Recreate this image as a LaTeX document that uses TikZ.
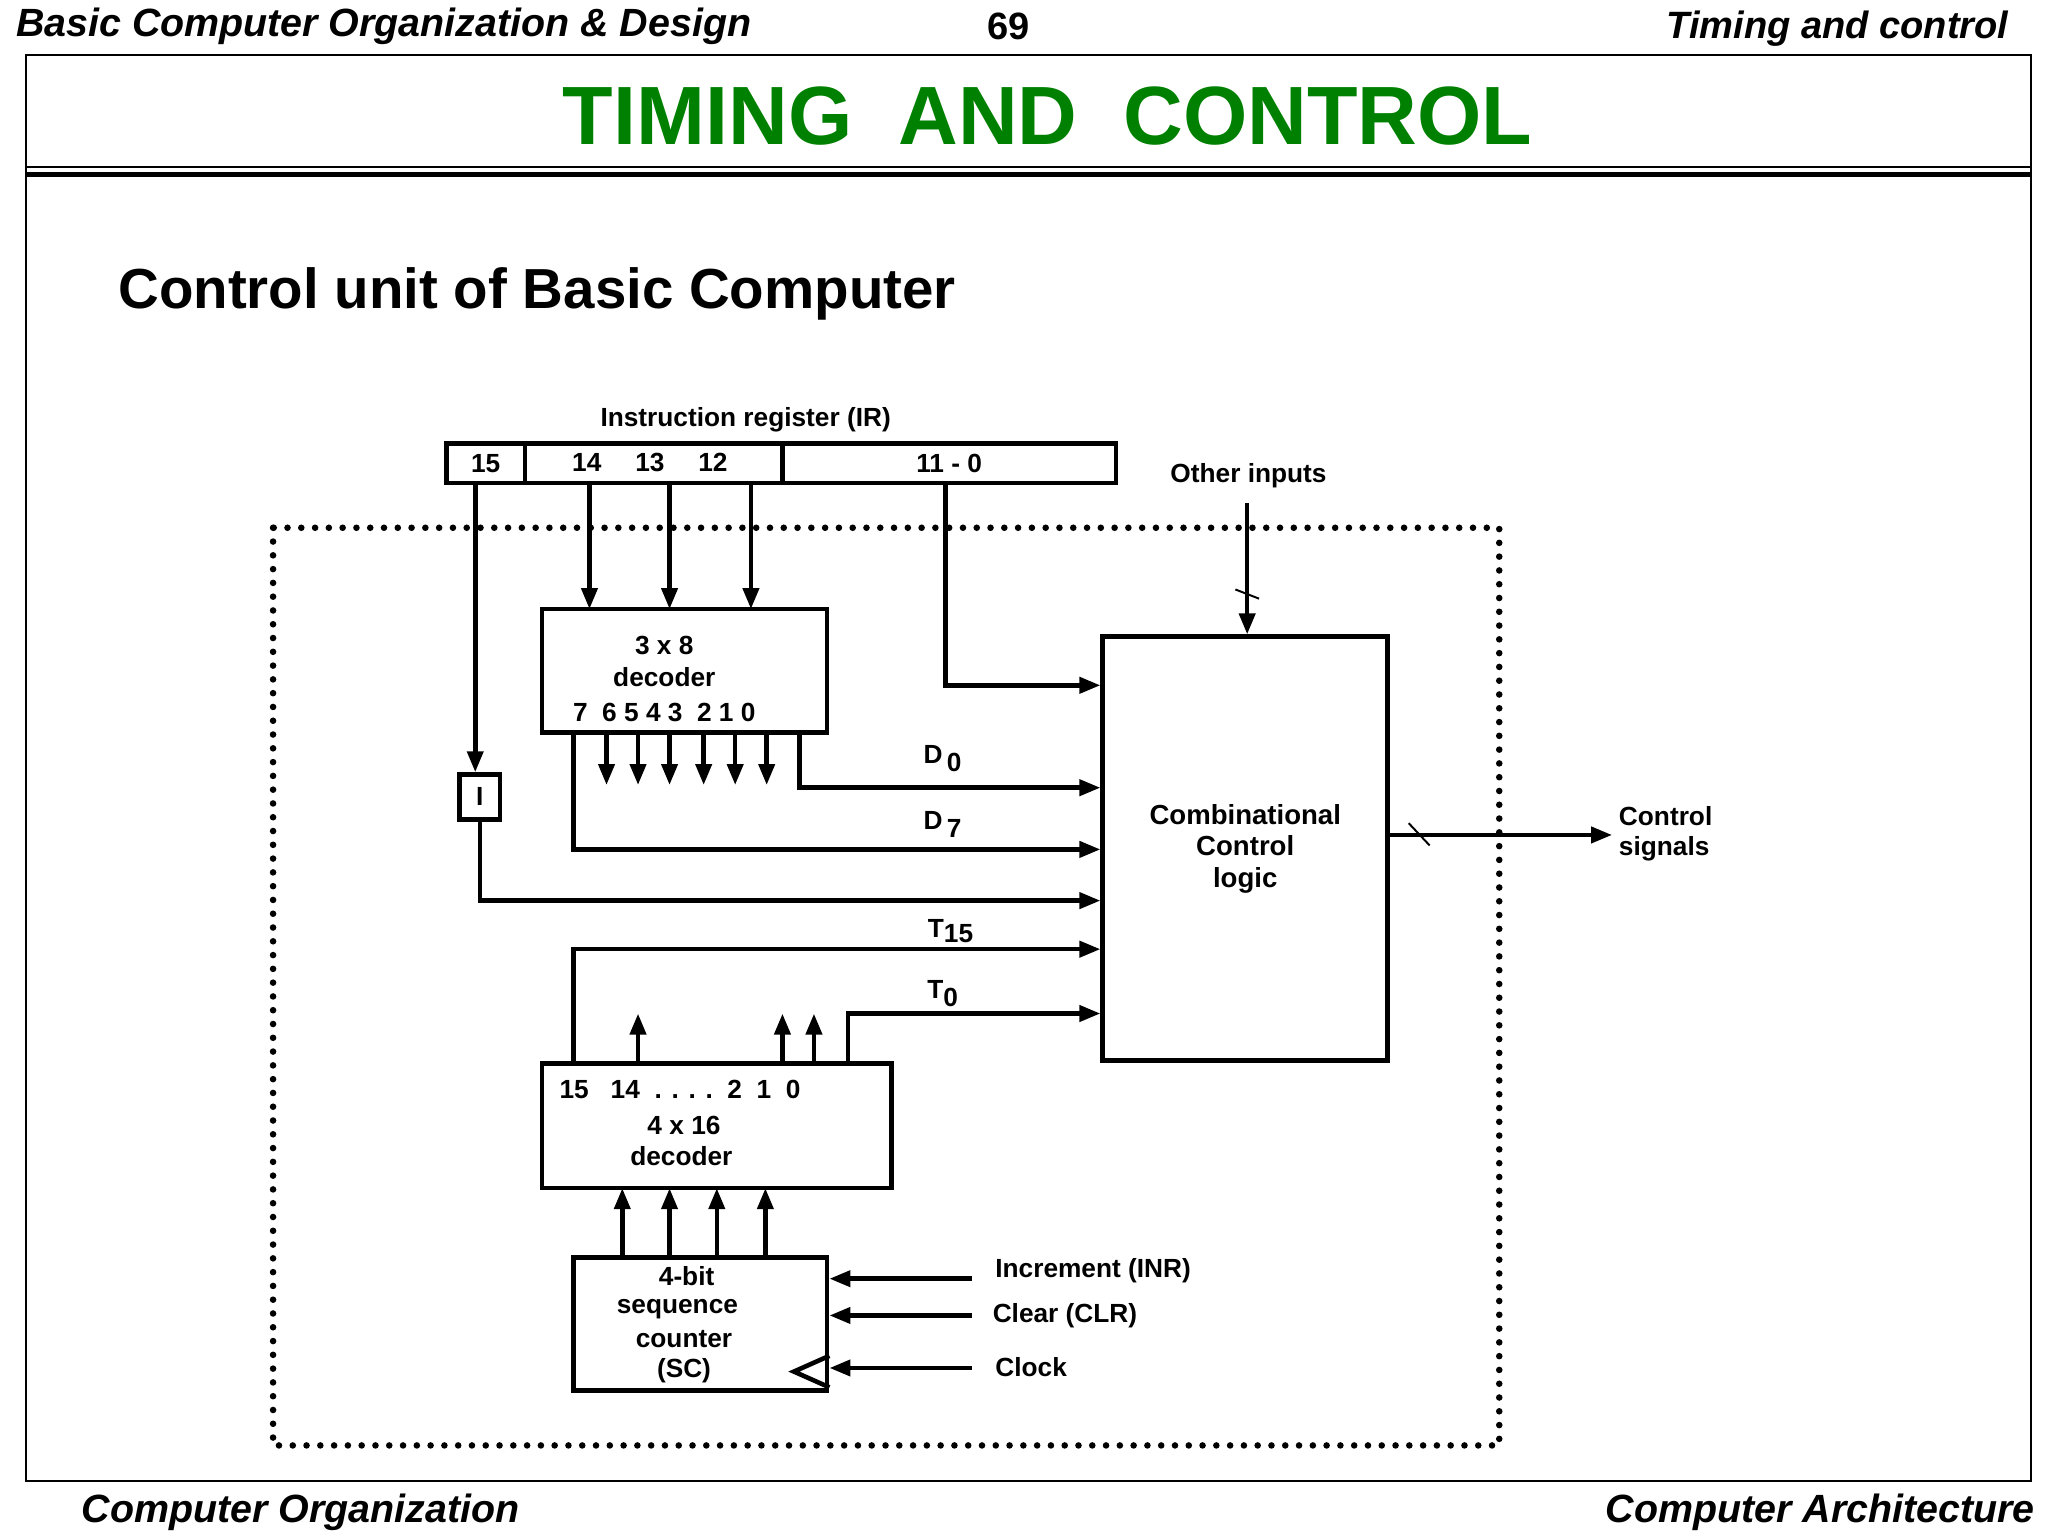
\documentclass[tikz,border=0pt]{standalone}
\usepackage{fontspec}
\setmainfont{Liberation Sans}
\usetikzlibrary{arrows.meta,calc}
\definecolor{titlegreen}{RGB}{0,128,0}
\begin{document}
\begin{tikzpicture}[x=1pt,y=-1pt,
    font=\fontsize{20}{23}\selectfont\bfseries,
    box/.style={draw, line width=3.5pt, inner sep=0pt, align=center},
    sig/.style={line width=3.5pt, -{Triangle[length=16pt,width=12pt]}},
    lbl/.style={inner sep=0pt, align=center}
  ]
    \useasboundingbox (0,0) rectangle (1560,1170);

    % Page frame and headings
    \node[lbl, anchor=west, font=\fontsize{30}{33}\selectfont\bfseries\itshape] (hl) at (12,20) {Basic Computer Organization \& Design};
    \node[lbl, font=\fontsize{29}{32}\selectfont\bfseries] (hc) at (768,20) {69};
    \node[lbl, anchor=east, font=\fontsize{29}{32}\selectfont\bfseries\itshape] (hr) at (1530,22) {Timing and control};
    \draw[line width=1.2pt] (20,42) rectangle (1547,1128);
    \draw[line width=1.5pt] (20,127) -- (1547,127);
    \draw[line width=4pt] (20,133) -- (1547,133);
    \node[lbl, text=titlegreen, font=\fontsize{63}{68}\selectfont\bfseries] (title) at (798,88) {TIMING\ \ AND\ \ CONTROL};
    \node[lbl, anchor=west, font=\fontsize{43}{46}\selectfont\bfseries] (sub) at (90,224) {Control unit of Basic Computer};
    \node[lbl, anchor=west, font=\fontsize{30}{33}\selectfont\bfseries\itshape] (fl) at (62,1152) {Computer Organization};
    \node[lbl, anchor=east, font=\fontsize{30}{33}\selectfont\bfseries\itshape] (fr) at (1550,1152) {Computer Architecture};

    % Dotted boundary
    \draw[line width=5pt, line cap=round, dash pattern=on 0pt off 10.5pt] (208,402) rectangle (1142,1101);

    % Instruction register
    \node[lbl] (irlbl) at (568,320) {Instruction register (IR)};
    \node[box, minimum width=60, minimum height=30] (ir15) at (370,353) {15};
    \node[box, minimum width=196, minimum height=30] (ir14) at (498,353) {};
    \node[box, minimum width=254, minimum height=30] (ir11) at (723,353) {11 - 0};
    \node[lbl] at (447,352) {14};
    \node[lbl] at (495,352) {13};
    \node[lbl] at (543,352) {12};

    % Decoders, counter, logic
    \node[box, minimum width=217, minimum height=94] (dec3) at (521.5,511) {};
    \node[lbl] at (506,492) {3 x 8};
    \node[lbl] at (506,516) {decoder};
    \node[lbl] at (506,543) {7\ \ 6 5 4 3\ \ 2 1 0};
    \node[box, minimum width=31, minimum height=34] (ireg) at (365.5,607) {I};
    \node[box, minimum width=217, minimum height=323, font=\fontsize{21}{24}\selectfont\bfseries] (ccl) at (948.5,646.5) {Combinational\\Control\\logic};
    \node[box, minimum width=266, minimum height=95] (dec4) at (546,857.5) {};
    \node[lbl] at (518,830) {15\ \ \ 14\ \ . . . .\ \ 2\ \ 1\ \ 0};
    \node[lbl] at (521,857) {4 x 16};
    \node[lbl] at (519,881) {decoder};
    \node[box, minimum width=193, minimum height=101] (sc) at (533.5,1008.5) {};
    \node[lbl] at (523,972) {4-bit};
    \node[lbl] at (516,997) {sequence};
    \node[lbl] at (521,1020) {counter};
    \node[lbl] at (521,1044) {(SC)};
    \draw[line width=3.5pt] ($(sc.south east)+(0,-28)$) -- ($(sc.south east)+(-27,-16)$) -- ($(sc.south east)+(0,-4)$);

    % IR to decoder
    \foreach \x in {449,510,572}
      \draw[sig] (\x,368) -- (\x,464);
    \draw[sig] (362,368) -- (ireg.north -| 362,0);
    \draw[sig] (720,368) |- (ccl.west |- 0,522);

    % Other inputs
    \node[lbl] (oin) at (951,362) {Other inputs};
    \draw[sig] (950,383) -- (ccl.north -| 950,0);
    \draw[line width=1.5pt] (941,449) -- (959,456);

    % Decoder outputs
    \foreach \x in {462,486,510,536,560,584}
      \draw[sig] (\x,558) -- (\x,598);
    \draw[sig] (609,558) |- (ccl.west |- 0,600);
    \draw[sig] (437,558) |- (ccl.west |- 0,647);
    \node[lbl] at (718,578) {D\,\raisebox{-6pt}{0}};
    \node[lbl] at (718,628) {D\,\raisebox{-6pt}{7}};
    \draw[sig] (ireg.south) |- (ccl.west |- 0,686);

    % Timing signals
    \draw[sig] (437,810) |- (ccl.west |- 0,723);
    \draw[sig] (646,810) |- (ccl.west |- 0,772);
    \node[lbl] at (724,709) {T\raisebox{-4pt}{15}};
    \node[lbl] at (718,757) {T\raisebox{-6pt}{0}};
    \foreach \x in {486,596,620}
      \draw[sig] (\x,810) -- (\x,772);

    % Counter to decoder
    \foreach \x in {474,510,546,583}
      \draw[sig] (\x,958) -- (\x,905);

    % Counter inputs
    \node[lbl, anchor=west] (inr) at (758,968) {Increment (INR)};
    \node[lbl, anchor=west] (clr) at (756,1002) {Clear (CLR)};
    \node[lbl, anchor=west] (clk) at (758,1041) {Clock};
    \draw[sig] (740,974) -- (sc.east |- 0,974);
    \draw[sig] (740,1002) -- (sc.east |- 0,1002);
    \draw[sig] (740,1042) -- (sc.east |- 0,1042);

    % Control signals out
    \node[lbl, anchor=west, align=left] (csig) at (1233,635) {Control\\signals};
    \draw[sig] (ccl.east |- 0,636) -- (1228,636);
    \draw[line width=1.5pt] (1073,627) -- (1089,644);
\end{tikzpicture}
\end{document}
